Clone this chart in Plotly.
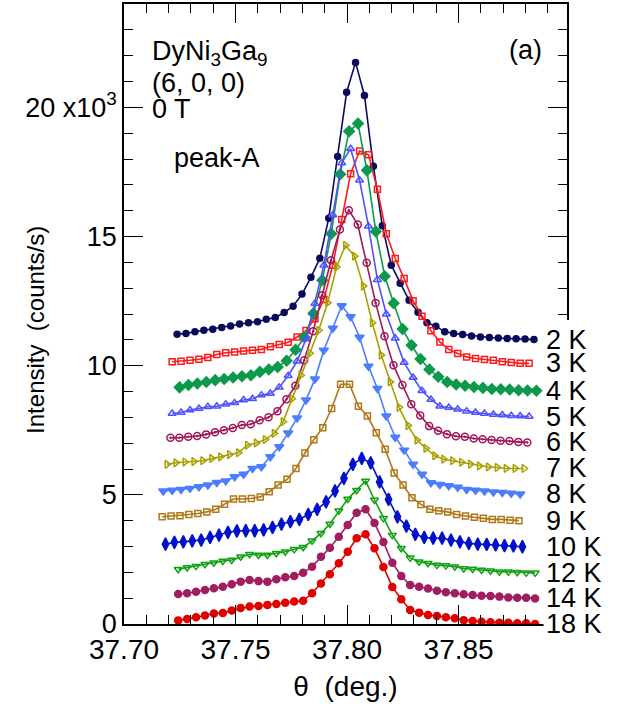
import numpy as np
import plotly.graph_objects as go

# Scan step and first scan angle of each temperature (deg.)
step_deg = 0.004
temps = ["2 K", "3 K", "4 K", "5 K", "6 K", "7 K", "8 K", "9 K", "10 K", "12 K", "14 K", "18 K"]
theta_start = [37.7238, 37.7216, 37.7249, 37.7216, 37.7208, 37.7193,
               37.7176, 37.7171, 37.7186, 37.7243, 37.7243, 37.7243]

# Intensities (x10^3 counts/s), curves stacked with 1x10^3 offsets
i_2K = [11.22, 11.25, 11.31, 11.37, 11.41, 11.48, 11.54, 11.61, 11.66, 11.70, 11.80, 11.86, 12.06, 12.30,
        12.77, 13.42, 14.16, 15.71, 18.10, 20.58, 21.74, 20.46, 17.72, 15.42, 13.89, 13.19, 12.53, 12.07,
        11.66, 11.53, 11.31, 11.25, 11.21, 11.15, 11.11, 11.09, 11.07, 11.05, 11.04, 11.03, 11.01]
i_3K = [10.15, 10.17, 10.21, 10.25, 10.32, 10.43, 10.50, 10.53, 10.57, 10.60, 10.63, 10.73, 10.82, 10.91,
        11.11, 11.36, 11.82, 12.56, 13.89, 15.66, 17.43, 18.31, 18.16, 16.83, 15.11, 14.15, 13.37, 12.51,
        11.91, 11.35, 10.92, 10.63, 10.47, 10.34, 10.28, 10.24, 10.21, 10.15, 10.12, 10.09, 10.09]
i_4K = [9.16, 9.25, 9.31, 9.37, 9.44, 9.48, 9.54, 9.59, 9.63, 9.76, 9.85, 9.95, 10.19, 10.62,
        11.10, 12.02, 13.31, 15.11, 17.41, 19.07, 19.37, 17.56, 15.19, 13.46, 12.42, 11.42, 10.79, 10.26,
        9.85, 9.57, 9.37, 9.27, 9.22, 9.17, 9.14, 9.10, 9.09, 9.08, 9.05, 9.04, 9.03]
i_5K = [8.15, 8.19, 8.28, 8.34, 8.41, 8.43, 8.51, 8.56, 8.67, 8.72, 8.86, 8.92, 9.16, 9.61,
        10.17, 11.03, 12.41, 13.89, 15.83, 17.85, 18.40, 17.18, 15.40, 13.33, 11.99, 11.06, 10.12, 9.54,
        9.03, 8.69, 8.43, 8.38, 8.31, 8.24, 8.19, 8.15, 8.11, 8.09, 8.06, 8.05, 8.03]
i_6K = [7.21, 7.21, 7.25, 7.28, 7.34, 7.42, 7.50, 7.59, 7.70, 7.73, 7.89, 8.00, 8.24, 8.70,
        9.22, 10.21, 11.33, 12.73, 14.08, 15.27, 16.02, 15.46, 13.98, 12.43, 11.14, 10.02, 9.25, 8.51,
        8.07, 7.66, 7.48, 7.35, 7.27, 7.25, 7.18, 7.15, 7.12, 7.09, 7.08, 7.05, 7.03]
i_7K = [6.18, 6.24, 6.27, 6.29, 6.32, 6.41, 6.47, 6.56, 6.63, 6.92, 7.01, 7.14, 7.38, 7.83,
        8.72, 9.63, 10.48, 11.37, 12.44, 13.82, 14.66, 14.24, 13.08, 11.66, 10.41, 9.37, 8.39, 7.68,
        7.12, 6.80, 6.51, 6.38, 6.32, 6.26, 6.19, 6.12, 6.08, 6.06, 6.02, 6.02, 6.02]
i_8K = [5.15, 5.18, 5.21, 5.25, 5.31, 5.38, 5.48, 5.54, 5.70, 5.80, 6.02, 6.09, 6.47, 6.86,
        7.39, 7.97, 8.67, 9.48, 10.60, 11.45, 12.32, 11.89, 11.10, 9.98, 9.12, 8.05, 7.23, 6.73,
        6.18, 5.80, 5.47, 5.40, 5.35, 5.29, 5.21, 5.18, 5.15, 5.11, 5.09, 5.06, 5.03]
i_9K = [4.15, 4.18, 4.19, 4.24, 4.28, 4.34, 4.44, 4.64, 4.84, 4.84, 4.86, 4.92, 5.12, 5.38,
        5.60, 6.02, 6.62, 7.13, 7.60, 8.34, 9.28, 9.28, 8.43, 8.05, 7.40, 6.76, 5.85, 5.38,
        4.89, 4.63, 4.44, 4.38, 4.34, 4.24, 4.18, 4.13, 4.09, 4.05, 4.05, 4.02, 4.00]
i_10K = [3.09, 3.16, 3.18, 3.22, 3.25, 3.35, 3.44, 3.55, 3.60, 3.61, 3.61, 3.64, 3.74, 3.87,
         3.96, 4.05, 4.24, 4.44, 4.73, 5.15, 5.64, 6.18, 6.41, 6.24, 5.50, 4.82, 4.15, 3.79,
         3.47, 3.35, 3.32, 3.32, 3.25, 3.18, 3.12, 3.09, 3.08, 3.06, 3.03, 3.02, 2.99]
i_12K = [2.12, 2.19, 2.24, 2.31, 2.37, 2.44, 2.48, 2.60, 2.70, 2.67, 2.67, 2.74, 2.80, 2.89,
         2.97, 3.22, 3.51, 3.87, 4.38, 4.84, 5.18, 5.54, 4.80, 4.09, 3.44, 2.93, 2.56, 2.41,
         2.35, 2.28, 2.26, 2.22, 2.15, 2.13, 2.09, 2.06, 2.02, 2.02, 2.00, 1.98, 1.98]
i_14K = [1.16, 1.19, 1.25, 1.32, 1.38, 1.44, 1.54, 1.64, 1.70, 1.66, 1.64, 1.73, 1.81, 1.86,
         1.98, 2.22, 2.60, 2.95, 3.38, 3.83, 4.31, 4.44, 3.91, 3.17, 2.37, 1.86, 1.51, 1.44,
         1.37, 1.29, 1.23, 1.19, 1.15, 1.12, 1.09, 1.08, 1.06, 1.03, 1.02, 1.02, 0.99]
i_18K = [0.14, 0.19, 0.26, 0.33, 0.41, 0.43, 0.52, 0.62, 0.68, 0.70, 0.74, 0.77, 0.82, 0.87,
         0.90, 1.19, 1.57, 1.93, 2.35, 2.80, 3.32, 3.47, 2.93, 2.21, 1.43, 0.96, 0.54, 0.44,
         0.35, 0.31, 0.26, 0.22, 0.15, 0.12, 0.09, 0.07, 0.05, 0.05, 0.03, 0.03, 0.00]

intensities = [i_2K, i_3K, i_4K, i_5K, i_6K, i_7K, i_8K, i_9K, i_10K, i_12K, i_14K, i_18K]

colors = ["#0a0a5c", "#ff1a1a", "#0c9a4a", "#5050ff", "#a0185c", "#a8a000",
          "#4d7dff", "#b07818", "#0010cc", "#10a010", "#a01e60", "#e00000"]
symbols = ["circle", "square-open", "diamond", "triangle-up-open", "circle-open-dot",
           "triangle-right-open", "triangle-down", "square-open", "diamond-tall",
           "triangle-down-open", "circle", "circle"]
sizes = [6, 6, 8, 7, 7, 7, 8, 6, 9, 7, 7, 7]

y_ticks = [0, 5, 10, 15, 20]
y_ticktext = ["0", "5", "10", "15", "20 x10<sup>3</sup>"]
x_ticks = [37.70, 37.75, 37.80, 37.85]
x_ticktext = ["37.70", "37.75", "37.80", "37.85"]

FONT = "Liberation Sans, Arial, Helvetica, sans-serif"
FS = 27

fig = go.Figure()
for lab, t0, inten, col, sym, sz in zip(temps, theta_start, intensities, colors, symbols, sizes):
    theta = t0 + step_deg * np.arange(len(inten))
    fig.add_trace(go.Scatter(
        x=theta, y=inten, mode="lines+markers", name=lab,
        line=dict(color=col, width=1.6),
        marker=dict(symbol=sym, size=sz, color=col, line=dict(color=col, width=1.5)),
        showlegend=False,
    ))

# Temperature labels at the right end of each curve
for lab, inten in zip(temps, intensities):
    fig.add_annotation(x=0.949, xref="paper", y=inten[-1], yref="y", text=lab,
                       showarrow=False, xanchor="left", yanchor="middle",
                       font=dict(family=FONT, size=FS, color="black"))

# Sample / reflection / field description
for txt, ypos in [("DyNi<sub>3</sub>Ga<sub>9</sub>", 0.921), ("(6, 0, 0)", 0.872), ("0 T", 0.830)]:
    fig.add_annotation(x=0.058, xref="paper", y=ypos, yref="paper", text=txt, showarrow=False,
                       xanchor="left", yanchor="middle", font=dict(family=FONT, size=FS, color="black"))
fig.add_annotation(x=0.108, xref="paper", y=0.752, yref="paper", text="peak-A", showarrow=False,
                   xanchor="left", yanchor="middle", font=dict(family=FONT, size=FS, color="black"))
fig.add_annotation(x=0.949, xref="paper", y=0.926, yref="paper", text="(a)", showarrow=False,
                   xanchor="right", yanchor="middle", font=dict(family=FONT, size=FS, color="black"))

# Y-axis title placed by hand, clear of the wide top tick label
fig.add_annotation(x=-0.200, xref="paper", y=0.475, yref="paper", text="Intensity  (counts/s)",
                   textangle=-90, showarrow=False, xanchor="center", yanchor="middle",
                   font=dict(family=FONT, size=24, color="black"))

# White band behind the temperature labels hides the frame there
fig.add_shape(type="rect", xref="paper", yref="paper", x0=0.947, x1=1.03, y0=-0.02, y1=0.4905,
              fillcolor="white", line=dict(width=0), layer="above")

axis_common = dict(showline=True, linecolor="black", linewidth=1.6, mirror="ticks",
                   ticks="inside", ticklen=19, tickwidth=1.3, tickcolor="black",
                   showgrid=False, zeroline=False, automargin=False)

fig.update_xaxes(range=[37.70, 37.8986], tickvals=x_ticks, ticktext=x_ticktext,
                 tickfont=dict(family=FONT, size=28, color="black"),
                 minor=dict(ticks="inside", ticklen=9, dtick=0.01, tick0=37.70, tickwidth=1.3, tickcolor="black"),
                 title=dict(text="θ  (deg.)", font=dict(family=FONT, size=28, color="black"), standoff=12),
                 **axis_common)
fig.update_yaxes(range=[0, 24], tickvals=y_ticks, ticktext=y_ticktext,
                 tickfont=dict(family=FONT, size=27, color="black"),
                 minor=dict(ticks="inside", ticklen=9, dtick=1, tick0=0, tickwidth=1.3, tickcolor="black"),
                 **axis_common)

fig.update_layout(width=628, height=711, margin=dict(l=123.5, r=61, t=4, b=87),
                  paper_bgcolor="white", plot_bgcolor="white",
                  font=dict(family=FONT, size=FS, color="black"))

fig.write_html("out.html")
